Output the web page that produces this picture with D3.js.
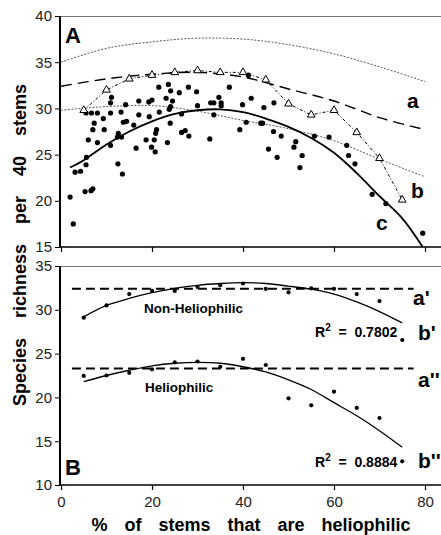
<!DOCTYPE html>
<html>
<head>
<meta charset="utf-8">
<script src="https://cdn.jsdelivr.net/npm/d3@7"></script>
<style>
  body { margin: 0; background: white; }
  text { font-family: Arial, "Liberation Sans", sans-serif; }
</style>
</head>
<body>
<div id="chart"></div>
<script>
// Panel A: plots (x = % heliophilic stems, y = species per 40 stems)
let plotX = [21.5,23.6,24.1,26.0,28.0,29.8,37.0,10.9,11.1,14.2,17.1,19.3,20.0,23.1,24.5,24.1,23.8,30.0,32.9,33.6,34.7,35.2,35.2,39.9,
  5.5,6.7,8.0,10.9,13.2,17.1,19.4,21.6,26.5,33.6,40.7,7.3,9.3,13.7,14.4,16.0,24.0,7.0,9.5,12.6,12.4,13.3,21.0,20.8,26.5,27.3,39.3,
  6.0,8.0,10.9,16.5,18.7,20.5,19.9,20.7,23.4,28.1,32.7,5.6,5.5,3.1,4.3,12.5,13.5,2.0,5.3,6.6,7.0,2.7,
  41.2,41.8,44.6,46.8,43.9,44.3,46.7,48.4,51.6,51.2,53.0,52.5,45.6,47.5,55.7,58.9,62.8,63.2,64.6,68.4,71.4,79.5]
let plotY = [32.3,32.6,31.9,31.7,32.3,31.8,32.3,30.6,31.2,30.4,30.8,30.7,30.9,31.1,30.8,30.2,29.9,30.3,30.6,30.6,31.2,30.6,30.3,30.4,
  29.5,29.5,29.5,29.5,29.6,29.3,29.1,29.6,29.4,29.3,28.5,28.4,28.9,28.5,28.6,28.2,28.4,27.7,27.7,27.3,26.9,26.9,27.7,27.3,27.4,27.6,27.7,
  26.6,26.3,26.0,25.7,26.6,26.6,25.8,25.3,26.3,27.0,26.7,24.7,23.9,23.1,23.2,24.0,22.9,20.4,21.0,21.1,21.3,17.5,
  33.6,31.1,30.1,30.6,28.4,28.4,27.5,27.0,26.4,25.8,24.9,23.6,25.6,24.7,27.0,26.9,26.0,24.9,24.0,20.7,19.7,16.5]

// class means (triangles)
let classX = [5,10,15,20,25,30,35,40,45,50,55,60,65,70,75]
let classY = [29.8,32.0,33.2,33.6,33.9,34.1,33.9,33.9,33.1,30.5,29.3,29.8,27.4,24.6,20.1]

// curves
let upperX = [0,10,20,30,40,50,60,70,80]
let upperY = [35.0,36.5,37.2,37.6,37.5,36.9,35.9,34.5,32.9]
let curveAX = [0,10,20,30,40,50,60,70,80]
let curveAY = [32.4,33.2,33.7,33.9,33.4,32.1,30.8,29.0,27.7]
let curveBX = [0,10,20,30,40,50,60,70,80]
let curveBY = [29.8,30.2,30.3,29.7,28.7,27.8,26.5,24.5,22.6]
let curveCX = [2,5,10,15,20,25,30,35,40,45,50,55,60,65,70,75,79.5]
let curveCY = [23.6,24.4,26.1,27.5,28.6,29.4,29.8,29.9,29.6,28.9,28.0,26.8,25.2,23.0,20.5,18.1,15.0]

// Panel B
let groupX = [5,10,15,20,25,30,35,40,45,50,55,60,65,70,75]
let nonHelioY = [29.1,30.5,31.8,32.15,32.15,32.6,32.8,33.0,32.4,32.0,32.45,32.4,31.8,31.0,26.55]
let helioY = [22.45,22.5,22.8,23.2,24.0,24.1,23.5,24.4,23.7,19.9,19.1,20.65,18.8,17.65,12.7]
let nonHelioFit = [29.2,30.5,31.3,31.95,32.45,32.8,33.0,33.1,33.0,32.7,32.35,31.8,30.9,29.8,28.5]
let helioFit = [21.8,22.5,23.1,23.6,23.9,24.0,23.9,23.5,22.9,22.0,20.9,19.4,17.9,16.2,14.3]
let nonHelioMean = 32.4
let helioMean = 23.3

let xTicks = [0,20,40,60,80]
let yTicksA = [15,20,25,30,35,40]
let yTicksB = [10,15,20,25,30,35]

const width = 441, height = 535

let x = d3.scaleLinear([0, 80], [61, 425])
let yA = d3.scaleLinear([15, 40], [247, 16])
let yB = d3.scaleLinear([10, 35], [485, 266])

const svg = d3.select("#chart").append("svg")
  .attr("width", width)
  .attr("height", height)
  .style("background", "white")

let pts = (xs, ys) => xs.map((d, i) => [d, ys[i]])

// frames
function panel(y, ticks, showLabels) {
  let g = svg.append("g")
  g.append("line").attr("x1", 60).attr("x2", width).attr("y1", y.range()[1] + 0.5).attr("y2", y.range()[1] + 0.5)
    .attr("stroke", "#777").attr("stroke-width", 1)
  g.append("g")
    .attr("transform", `translate(0,${y.range()[0]})`)
    .call(d3.axisBottom(x).tickValues(xTicks).tickSize(5).tickPadding(6)
      .tickFormat(showLabels ? d3.format("d") : ""))
    .call(g => g.select(".domain").remove())
    .call(g => g.selectAll(".tick line").attr("stroke-width", 1.2))
    .call(g => g.selectAll(".tick text").attr("font-size", 15).attr("fill", "#222"))
  g.append("line").attr("x1", 59).attr("x2", width).attr("y1", y.range()[0]).attr("y2", y.range()[0])
    .attr("stroke", "#000").attr("stroke-width", 1.5)
  g.append("g")
    .attr("transform", "translate(60,0)")
    .call(d3.axisLeft(y).tickValues(ticks).tickSize(5).tickPadding(3))
    .call(g => g.select(".domain").remove())
    .call(g => g.selectAll(".tick text").attr("font-size", 15).attr("fill", "#222"))
  g.append("line").attr("x1", 60).attr("x2", 60).attr("y1", y.range()[1]).attr("y2", y.range()[0])
    .attr("stroke", "#000").attr("stroke-width", 2)
}
panel(yA, yTicksA, false)
panel(yB, yTicksB, true)

// panel A lines
let lineA = d3.line().x(d => x(d[0])).y(d => yA(d[1])).curve(d3.curveCatmullRom)
svg.append("path").attr("d", lineA(pts(upperX, upperY)))
  .attr("fill", "none").attr("stroke", "#444").attr("stroke-width", 0.9).attr("stroke-dasharray", "2,1.5")
svg.append("path").attr("d", lineA(pts(curveAX, curveAY)))
  .attr("fill", "none").attr("stroke", "#000").attr("stroke-width", 1.4).attr("stroke-dasharray", "11,6")
svg.append("path").attr("d", lineA(pts(curveBX, curveBY)))
  .attr("fill", "none").attr("stroke", "#444").attr("stroke-width", 0.9).attr("stroke-dasharray", "2,1.5")
svg.append("path").attr("d", d3.line().x(d => x(d[0])).y(d => yA(d[1]))(pts(classX, classY)))
  .attr("fill", "none").attr("stroke", "#000").attr("stroke-width", 1).attr("stroke-dasharray", "3,2,1,2")
svg.append("path").attr("d", lineA(pts(curveCX, curveCY)))
  .attr("fill", "none").attr("stroke", "#000").attr("stroke-width", 1.8)

svg.append("g").selectAll("circle")
  .data(pts(plotX, plotY))
  .join("circle")
  .attr("cx", d => x(d[0]))
  .attr("cy", d => yA(d[1]))
  .attr("r", 2.6)
  .attr("fill", "#000")

svg.append("g").selectAll("path")
  .data(pts(classX, classY))
  .join("path")
  .attr("transform", d => `translate(${x(d[0])},${yA(d[1])})`)
  .attr("d", d3.symbol(d3.symbolTriangle, 26))
  .attr("fill", "white")
  .attr("stroke", "#000")
  .attr("stroke-width", 1)

// panel B lines
let lineB = d3.line().x(d => x(d[0])).y(d => yB(d[1])).curve(d3.curveCatmullRom)
for (let m of [nonHelioMean, helioMean]) {
  svg.append("line")
    .attr("x1", x(2.4)).attr("x2", x(77.5))
    .attr("y1", yB(m)).attr("y2", yB(m))
    .attr("stroke", "#000").attr("stroke-width", 2).attr("stroke-dasharray", "9,5")
}
for (let f of [nonHelioFit, helioFit]) {
  svg.append("path").attr("d", lineB(pts(groupX, f)))
    .attr("fill", "none").attr("stroke", "#000").attr("stroke-width", 1.3)
}
for (let s of [nonHelioY, helioY]) {
  svg.append("g").selectAll("circle")
    .data(pts(groupX, s))
    .join("circle")
    .attr("cx", d => x(d[0]))
    .attr("cy", d => yB(d[1]))
    .attr("r", 2.1)
    .attr("fill", "#000")
}

// labels
let label = (t, px, py, size, opts = {}) => svg.append("text")
  .attr("x", px).attr("y", py)
  .attr("font-size", size)
  .attr("font-weight", "bold")
  .attr("text-anchor", opts.anchor || "start")
  .text(t)

label("A", 65, 43, 22)
label("B", 65, 475, 22)
label("a", 407, 108, 21)
label("b", 411, 198, 21)
label("c", 376, 230, 21)
label("a'", 413, 305, 21)
label("b'", 418, 340, 21)
label("a''", 418, 387, 21)
label("b''", 418, 468, 21)
label("Non-Heliophilic", 144, 313, 13.5)
label("Heliophilic", 145, 392, 13.5)

for (let [r, py] of [["0.7802", 337], ["0.8884", 467]]) {
  let t = svg.append("text").attr("x", 315).attr("y", py).attr("font-size", 14).attr("font-weight", "bold")
    .style("white-space", "pre")
  t.append("tspan").text("R")
  t.append("tspan").attr("dy", -6).attr("font-size", 10).text("2")
  t.append("tspan").attr("dy", 6).text("  =  " + r)
}

// axis titles
svg.append("text")
  .attr("x", 251).attr("y", 531)
  .attr("text-anchor", "middle")
  .attr("font-size", 18)
  .attr("font-weight", "bold")
  .attr("word-spacing", 12)
  .text("% of stems that are heliophilic")

svg.append("text")
  .attr("transform", "translate(26,245) rotate(-90)")
  .attr("text-anchor", "middle")
  .attr("font-size", 18)
  .attr("font-weight", "bold")
  .attr("word-spacing", 15)
  .text("Species richness per 40 stems")
</script>
</body>
</html>
